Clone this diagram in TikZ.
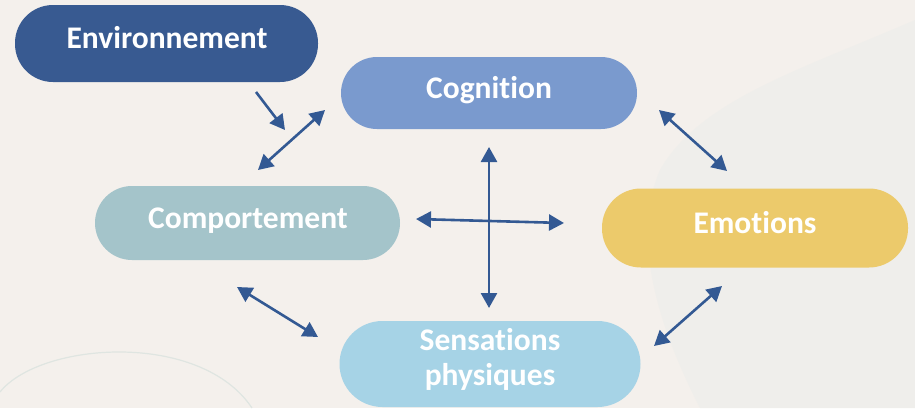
\documentclass[tikz,border=0pt]{standalone}
\usepackage{fontspec}
\setmainfont{Carlito}[Ligatures=NoCommon]
\usetikzlibrary{arrows.meta}
\definecolor{bgc}{HTML}{F4F0EC}
\definecolor{bgr}{HTML}{EFEEEB}
\definecolor{arcc}{HTML}{DFE5E1}
\definecolor{envc}{HTML}{385A91}
\definecolor{cogc}{HTML}{7A9ACE}
\definecolor{compc}{HTML}{A4C4CA}
\definecolor{emoc}{HTML}{ECCA6B}
\definecolor{sensc}{HTML}{A6D3E6}
\definecolor{arrc}{HTML}{335993}
\begin{document}
\begin{tikzpicture}[x=1pt,y=-1pt,
  pill/.style={draw=none, rectangle, inner sep=0pt},
  lbl/.style={text=white, font=\fontsize{31.5}{35}\selectfont\bfseries, anchor=base, inner sep=0pt},
  conn/.style={draw=arrc, line width=2.6pt},
  tip/.style={-{Triangle[length=15pt,width=16pt]}},
  dtip/.style={{Triangle[length=15pt,width=16pt]}-{Triangle[length=15pt,width=16pt]}}
]
\useasboundingbox (0,0) rectangle (915,408);
\fill[bgc] (0,0) rectangle (915,408);
% faint background washes
\fill[bgr] (915,20) -- (915,408) -- (700,408) .. controls (660,330) and (630,240) .. (660,170)
  .. controls (700,100) and (800,70) .. (915,20) -- cycle;
\draw[arcc, line width=1.2pt] (0,392) .. controls (40,342) and (200,330) .. (252,408);
% pills
\node[pill, fill=envc, minimum width=303pt, minimum height=77pt, rounded corners=38pt] (env) at (166.5,43.5) {};
\node[pill, fill=cogc, minimum width=296pt, minimum height=72pt, rounded corners=36pt] (cog) at (489,93) {};
\node[pill, fill=compc, minimum width=305pt, minimum height=74pt, rounded corners=37pt] (comp) at (247.5,223) {};
\node[pill, fill=emoc, minimum width=306pt, minimum height=79pt, rounded corners=39pt] (emo) at (755,228) {};
\node[pill, fill=sensc, minimum width=301pt, minimum height=86pt, rounded corners=43pt] (sens) at (490,364) {};
% labels
\node[lbl] (envt) at (167,48) {Environnement};
\node[lbl] (cogt) at (489,98) {Cognition};
\node[lbl] (compt) at (248,228) {Comportement};
\node[lbl] (emot) at (755,233) {Emotions};
\node[lbl] (senst1) at (490,350) {Sensations};
\node[lbl] (senst2) at (490,385) {physiques};
% connector end points
\coordinate (a1) at (256,92);   \coordinate (a2) at (285,130);
\coordinate (b1) at (258,170);  \coordinate (b2) at (325,110);
\coordinate (c1) at (659,110);  \coordinate (c2) at (727,171);
\coordinate (d1) at (489,147);  \coordinate (d2) at (489,308);
\coordinate (e1) at (416,219);  \coordinate (e2) at (564,223);
\coordinate (f1) at (237,287);  \coordinate (f2) at (318,337);
\coordinate (g1) at (654,346);  \coordinate (g2) at (722,286);
% connectors
\draw[conn, tip] (a1) -- (a2);
\draw[conn, dtip] (b1) -- (b2);
\draw[conn, dtip] (c1) -- (c2);
\draw[conn, dtip] (d1) -- (d2);
\draw[conn, dtip] (e1) -- (e2);
\draw[conn, dtip] (f1) -- (f2);
\draw[conn, dtip] (g1) -- (g2);
\end{tikzpicture}
\end{document}
